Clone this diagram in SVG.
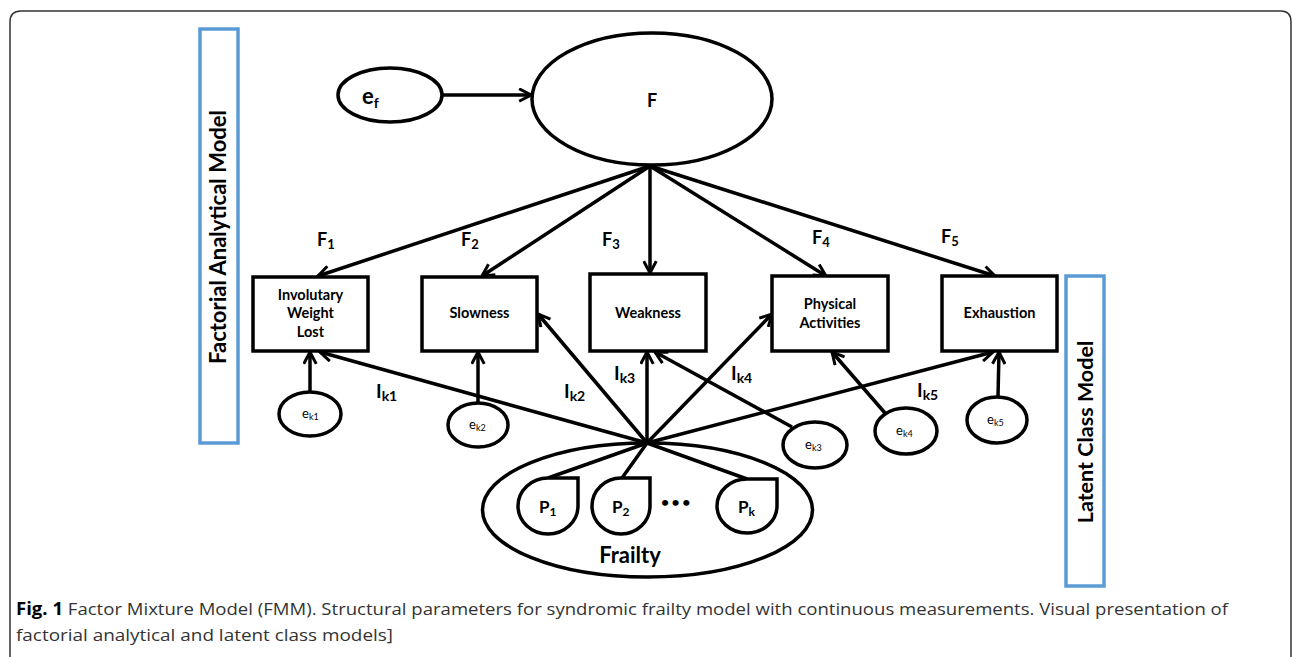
<svg xmlns="http://www.w3.org/2000/svg" width="1292" height="657" viewBox="0 0 1292 657">
<style>
.ln{stroke:#000;stroke-width:3.5;fill:none}
.ar{stroke:#000;stroke-width:3.5;fill:none;marker-end:url(#arr)}
.blue{stroke:#5b9bd5;stroke-width:3.5;fill:#fff}
.t{font-family:Lato,"Liberation Sans",sans-serif;font-weight:bold;fill:#000}
.ts{font-family:Lato,"Liberation Sans",sans-serif;fill:#000}
.box{stroke:#000;stroke-width:3.5;fill:#fff}
</style>
<defs>
<marker id="arr" viewBox="0 0 12 12" refX="10.5" refY="6" markerWidth="15" markerHeight="15" markerUnits="userSpaceOnUse" orient="auto">
<path d="M1,1 L10.5,6 L1,11" fill="none" stroke="#000" stroke-width="2.4"/>
</marker>
</defs>
<rect width="1292" height="657" fill="#fff"/>
<path d="M10,657 V22 Q10,11 21,11 H1281 Q1291,11 1291,22 V657" fill="none" stroke="#333" stroke-width="1.5"/>

<g id="connectors">
<line class="ar" x1="442" y1="95" x2="531" y2="95"/>
<line class="ar" x1="650" y1="166" x2="318" y2="276"/>
<line class="ar" x1="650" y1="166" x2="482" y2="276"/>
<line class="ar" x1="650" y1="166" x2="650" y2="273"/>
<line class="ar" x1="650" y1="166" x2="826" y2="276"/>
<line class="ar" x1="650" y1="166" x2="995" y2="276"/>
<line class="ar" x1="647" y1="443" x2="320" y2="352"/>
<line class="ar" x1="647" y1="443" x2="538" y2="314"/>
<line class="ar" x1="647" y1="443" x2="647" y2="352"/>
<line class="ar" x1="647" y1="443" x2="772" y2="314"/>
<line class="ar" x1="647" y1="443" x2="993" y2="352"/>
<line class="ln" x1="647" y1="443" x2="548" y2="478"/>
<line class="ln" x1="647" y1="443" x2="622" y2="478"/>
<line class="ln" x1="647" y1="443" x2="747" y2="479"/>
<line class="ar" x1="310" y1="392" x2="310" y2="352"/>
<line class="ar" x1="478" y1="403" x2="478" y2="352"/>
<line class="ar" x1="792" y1="427" x2="655" y2="352"/>
<line class="ar" x1="885" y1="413" x2="832" y2="352"/>
<line class="ar" x1="998" y1="397" x2="999" y2="352"/>
</g>

<g id="factorial-label">
<rect class="blue" x="200" y="29" width="38" height="414"/>
<text class="t" font-size="22" text-anchor="middle" transform="translate(226,237) rotate(-90)">Factorial Analytical Model</text>
</g>
<g id="latent-label">
<rect class="blue" x="1066" y="276" width="38" height="310"/>
<text class="t" font-size="21.5" text-anchor="middle" transform="translate(1093,432) rotate(-90)">Latent Class Model</text>
</g>

<g id="ef">
<ellipse class="ln" cx="390" cy="95" rx="52" ry="27"/>
<text class="t" font-size="22" x="362" y="104">e<tspan font-size="14" dy="4">f</tspan></text>
</g>
<g id="F">
<ellipse class="ln" cx="652" cy="99" rx="120" ry="66"/>
<text class="t" font-size="18" x="652" y="107" text-anchor="middle">F</text>
</g>

<g id="loadings">
<text class="t" font-size="18" x="317" y="246">F<tspan font-size="13" dy="3">1</tspan></text>
<text class="t" font-size="18" x="461" y="246">F<tspan font-size="13" dy="3">2</tspan></text>
<text class="t" font-size="18" x="602" y="246">F<tspan font-size="13" dy="3">3</tspan></text>
<text class="t" font-size="18" x="812" y="244">F<tspan font-size="13" dy="3">4</tspan></text>
<text class="t" font-size="18" x="941" y="243">F<tspan font-size="13" dy="3">5</tspan></text>
<text class="t" font-size="19" x="376" y="398">I<tspan font-size="14" dy="3">k1</tspan></text>
<text class="t" font-size="19" x="564" y="398">I<tspan font-size="14" dy="3">k2</tspan></text>
<text class="t" font-size="19" x="614" y="380">I<tspan font-size="14" dy="3">k3</tspan></text>
<text class="t" font-size="19" x="731" y="380">I<tspan font-size="14" dy="3">k4</tspan></text>
<text class="t" font-size="19" x="917" y="397">I<tspan font-size="14" dy="3">k5</tspan></text>
</g>

<g id="box1">
<rect class="box" x="253" y="277" width="115" height="74"/>
<text class="t" font-size="14.5" text-anchor="middle"><tspan x="310.5" y="300">Involutary</tspan><tspan x="310.5" y="318">Weight</tspan><tspan x="310.5" y="337">Lost</tspan></text>
</g>
<g id="box2">
<rect class="box" x="422" y="277" width="115" height="74"/>
<text class="t" font-size="14.5" text-anchor="middle" x="479.5" y="318">Slowness</text>
</g>
<g id="box3">
<rect class="box" x="590" y="274" width="116" height="77"/>
<text class="t" font-size="14.5" text-anchor="middle" x="648" y="318">Weakness</text>
</g>
<g id="box4">
<rect class="box" x="772" y="276" width="116" height="75"/>
<text class="t" font-size="14.5" text-anchor="middle"><tspan x="830" y="309">Physical</tspan><tspan x="830" y="328">Activities</tspan></text>
</g>
<g id="box5">
<rect class="box" x="942" y="276" width="115" height="75"/>
<text class="t" font-size="14.5" text-anchor="middle" x="999.5" y="318">Exhaustion</text>
</g>

<g id="ek1">
<ellipse class="box" cx="310" cy="414" rx="31" ry="22"/>
<text class="ts" font-size="13" x="302" y="418">e<tspan font-size="9" dy="2">k1</tspan></text>
</g>
<g id="ek2">
<ellipse class="box" cx="478" cy="425" rx="30" ry="22"/>
<text class="ts" font-size="13" x="469" y="429">e<tspan font-size="9" dy="2">k2</tspan></text>
</g>
<g id="ek3">
<ellipse class="box" cx="815" cy="445" rx="32" ry="23"/>
<text class="ts" font-size="13" x="805" y="449">e<tspan font-size="9" dy="2">k3</tspan></text>
</g>
<g id="ek4">
<ellipse class="box" cx="906" cy="431" rx="31" ry="23"/>
<text class="ts" font-size="13" x="896" y="435">e<tspan font-size="9" dy="2">k4</tspan></text>
</g>
<g id="ek5">
<ellipse class="box" cx="997" cy="420" rx="30" ry="23"/>
<text class="ts" font-size="13" x="987" y="424">e<tspan font-size="9" dy="2">k5</tspan></text>
</g>

<g id="frailty">
<ellipse class="ln" cx="647.5" cy="510" rx="165" ry="67"/>
<text class="t" font-size="22" x="630" y="563" text-anchor="middle">Frailty</text>
</g>
<g id="p1">
<path class="box" d="M548,478 H578 V506 A30,28 0 1 1 548,478 Z"/>
<text class="t" font-size="17" x="539" y="513">P<tspan font-size="12" dy="3">1</tspan></text>
</g>
<g id="p2">
<path class="box" d="M621,478 H650 V506 A29,28 0 1 1 621,478 Z"/>
<text class="t" font-size="17" x="612" y="513">P<tspan font-size="12" dy="3">2</tspan></text>
</g>
<g id="pk">
<path class="box" d="M747,479 H777 V506 A30,27 0 1 1 747,479 Z"/>
<text class="t" font-size="17" x="738" y="513">P<tspan font-size="12" dy="3">k</tspan></text>
</g>
<text class="t" font-size="14" x="661" y="507" letter-spacing="2.5">•••</text>

<g id="caption">
<text font-family="'Open Sans','Liberation Sans',sans-serif" font-size="17" fill="#333" x="16" y="615" textLength="1212" lengthAdjust="spacingAndGlyphs"><tspan font-weight="bold" fill="#000">Fig. 1</tspan> Factor Mixture Model (FMM). Structural parameters for syndromic frailty model with continuous measurements. Visual presentation of</text>
<text font-family="'Open Sans','Liberation Sans',sans-serif" font-size="17" fill="#333" x="16" y="641" textLength="377" lengthAdjust="spacingAndGlyphs">factorial analytical and latent class models]</text>
</g>
</svg>
